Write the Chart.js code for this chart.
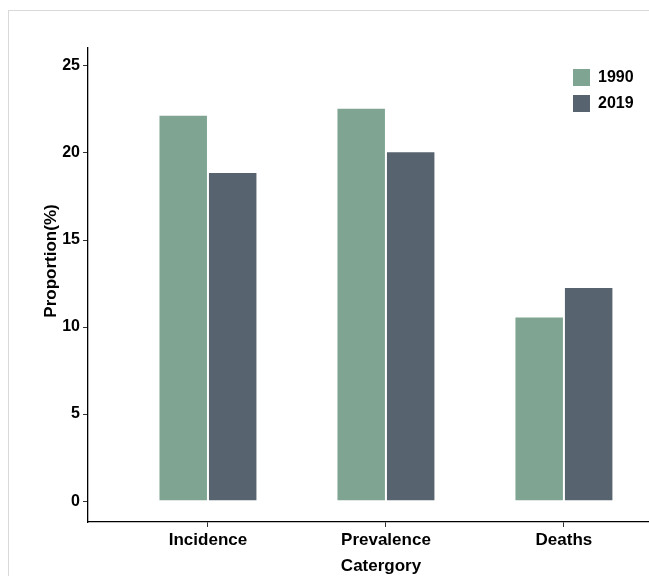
<!DOCTYPE html>
<html>
<head>
<meta charset="utf-8">
<script src="https://cdn.jsdelivr.net/npm/chart.js@4"></script>
<style>
  html, body { margin: 0; padding: 0; background: #fff; overflow: hidden; }
  #frame { position: absolute; left: 8px; top: 10px; width: 700px; height: 700px;
           border-top: 1px solid #d9d9d9; border-left: 1px solid #d9d9d9; }
  #chart { position: absolute; left: 0; top: 0; }
</style>
</head>
<body>
<div id="frame"></div>
<canvas id="chart" width="649" height="576"></canvas>
<script>
var categories = ['Incidence', 'Prevalence', 'Deaths']
var years = ['1990', '2019']
var values1990 = [22.2, 22.6, 10.6]
var values2019 = [18.9, 20.1, 12.3]
var yTicks = [0, 5, 10, 15, 20, 25]

var colors = ['#7fa592', '#57636e']
var font = 'Liberation Sans, Arial, sans-serif'

function toPoints(vals) {
    return vals.map(function (v, i) { return { x: i, y: v } })
}

// titles and legend drawn by hand to sit where the original puts them
var extras = {
    id: 'extras',
    afterDraw: function (chart) {
        var ctx = chart.ctx
        ctx.save()
        ctx.fillStyle = '#000'
        ctx.font = 'bold 17px ' + font
        ctx.textAlign = 'center'
        ctx.textBaseline = 'middle'
        ctx.fillText('Catergory', 381, 566)
        ctx.translate(51, 261)
        ctx.rotate(-Math.PI / 2)
        ctx.fillText('Proportion(%)', 0, 0)
        ctx.restore()

        ctx.save()
        chart.data.datasets.forEach(function (ds, i) {
            var y = 69 + i * 26
            ctx.fillStyle = ds.backgroundColor
            ctx.fillRect(573, y, 17, 17)
            ctx.fillStyle = '#000'
            ctx.font = 'bold 16px ' + font
            ctx.textAlign = 'left'
            ctx.textBaseline = 'middle'
            ctx.fillText(ds.label, 598, y + 9)
        })
        ctx.restore()
    }
}

var ctx = document.getElementById('chart').getContext('2d')
new Chart(ctx, {
    type: 'bar',
    data: {
        datasets: [
            { label: years[0], data: toPoints(values1990), backgroundColor: colors[0],
              borderColor: 'rgba(255,255,255,0.85)', borderWidth: 1 },
            { label: years[1], data: toPoints(values2019), backgroundColor: colors[1],
              borderColor: 'rgba(255,255,255,0.85)', borderWidth: 1 }
        ]
    },
    options: {
        responsive: false,
        animation: false,
        layout: { padding: { top: 48, right: 0, left: 0, bottom: 0 } },
        categoryPercentage: 0.556,
        barPercentage: 1,
        plugins: { legend: { display: false }, tooltip: { enabled: false } },
        scales: {
            x: {
                type: 'linear',
                offset: false,
                min: -0.674,
                max: 2.478,
                afterBuildTicks: function (s) {
                    s.ticks = categories.map(function (c, i) { return { value: i } })
                },
                afterFit: function (s) { s.height = 54 },
                grid: { offset: false, drawOnChartArea: false, drawTicks: true, tickLength: 5, tickColor: '#333' },
                border: { display: true, color: '#000', width: 1.3 },
                ticks: {
                    padding: 3,
                    color: '#000',
                    font: { family: font, size: 17, weight: 'bold' },
                    callback: function (v) { return categories[v] }
                }
            },
            y: {
                min: -1.2,
                max: 26.03,
                afterBuildTicks: function (s) {
                    s.ticks = yTicks.map(function (v) { return { value: v } })
                },
                afterFit: function (s) { s.width = 88 },
                grid: { drawOnChartArea: false, drawTicks: true, tickLength: 5, tickColor: '#333' },
                border: { display: true, color: '#000', width: 1.3 },
                ticks: {
                    padding: 3,
                    color: '#000',
                    font: { family: font, size: 16, weight: 'bold' }
                }
            }
        }
    },
    plugins: [extras]
})
</script>
</body>
</html>
